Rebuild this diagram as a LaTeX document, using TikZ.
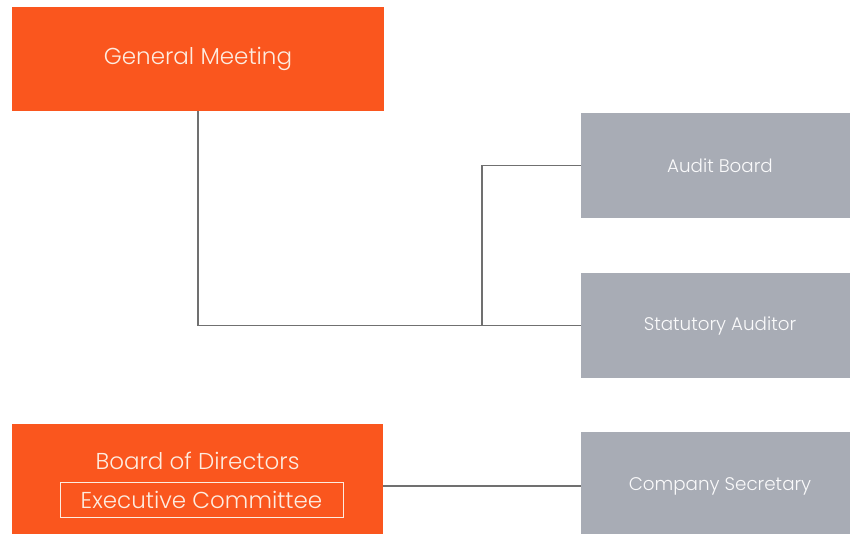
\documentclass[tikz,border=0pt]{standalone}
\usepackage{fontspec}
\setmainfont{Poppins}[UprightFont=* Light]
\usepackage{xcolor}
\usetikzlibrary{positioning,calc}
\definecolor{govorange}{RGB}{250,86,30}
\definecolor{govgray}{RGB}{168,172,181}
\definecolor{govline}{RGB}{112,112,112}
\definecolor{govcream}{RGB}{253,236,224}
\tikzset{
  mainbox/.style ={rectangle,fill=govorange,text=govcream,inner sep=0pt,font=\fontsize{23}{26}\selectfont},
  sidebox/.style ={rectangle,fill=govgray,text=white!94!govgray,inner sep=0pt,font=\fontsize{18.3}{22}\selectfont},
  subbox/.style  ={rectangle,draw=govcream,line width=1pt,inner sep=0pt,text=govcream,font=\fontsize{23}{26}\selectfont},
  link/.style    ={govline,line width=1.1pt},
}

\begin{document}
\begin{tikzpicture}[x=1pt,y=1pt]
  \useasboundingbox (0,0) rectangle (850,533);
  % governing bodies
  \node[mainbox,minimum width=372pt,minimum height=104pt] (gm) at (198,474) {General Meeting};
  \node[mainbox,minimum width=371pt,minimum height=112pt] (bod) at (197.5,53) {};
  \node[mainbox] (bodt) at (197.5,72) {Board of Directors};
  \node[subbox,minimum width=283pt,minimum height=35pt] (exec) at (201.5,33.5) {Executive Committee};
  % control and support
  \node[sidebox,minimum width=278pt,minimum height=105pt] (ab) at (720,367.5) {Audit Board};
  \node[sidebox,minimum width=278pt,minimum height=105pt] (sa) at (720,207.5) {Statutory Auditor};
  \node[sidebox,minimum width=278pt,minimum height=108pt] (cs) at (720,47) {Company Secretary};
  % connectors
  \coordinate (jn) at (482,207.5);
  \draw[link] (gm.south) |- (sa.west);
  \draw[link] (ab.west) -| (jn);
  \draw[link] (bod.east |- cs.west) -- (cs.west);
\end{tikzpicture}
\end{document}
